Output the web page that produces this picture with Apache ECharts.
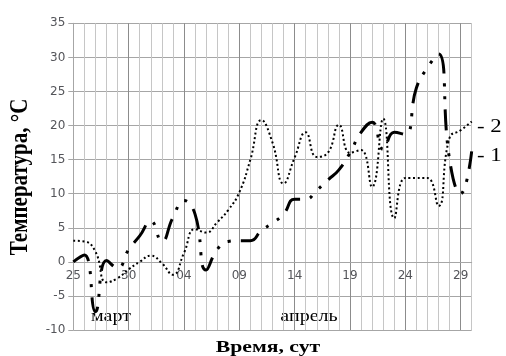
<!DOCTYPE html>
<html>
<head>
<meta charset="utf-8">
<script src="https://cdn.jsdelivr.net/npm/echarts@6/dist/echarts.min.js"></script>
<style>
html,body{margin:0;padding:0;background:#fff;}
#chart{width:506px;height:356px;}
</style>
</head>
<body>
<div id="chart"></div>
<script>
// Days: 25 March .. 30 April
const days = ['25','26','27','28','29','30','31',
  '01','02','03','04','05','06','07','08','09','10','11','12','13','14','15',
  '16','17','18','19','20','21','22','23','24','25','26','27','28','29','30'];
// Series 1 (long dash - dot - dot)
const series1 = [0, 1, -7.3, 0.2, -0.9, 1.8, 3.8, 6, 3, 6.5, 9, 7, -1.2, 1.8, 3, 3.1, 3.1, 4.6, 5.7, 7,
  9.2, 9.2, 10.5, 12, 13.5, 16, 19, 20.5, 16.5, 19, 18.7, 25.5, 28.5, 30.5, 15, 10, 16.2];
// Series 2 (round dots)
const series2 = [3.1, 3, 1.5, -3, -2.4, -1.1, 0, 0.9, -0.2, -1.9, 1.3, 4.8, 4.3, 5.8, 7.6, 10.2, 15, 20.8, 17.5, 11.5,
  15.3, 19, 15.4, 16, 20.1, 16, 16.4, 11, 21, 6.4, 12.3, 12.3, 12.3, 8.2, 18.2, 19.3, 20.6];
const yMin = -10, yMax = 35, yStep = 5;
const monthLabels = ['март', 'апрель'];
const seriesLabels = ['- 2', '- 1'];
const xTitle = 'Время, сут';
const yTitle = 'Температура, °С';

const gridTop = 23.3, gridBottom = 26, chartH = 356;
const plotH = chartH - gridTop - gridBottom;
const zeroOffset = -plotH * (0 - yMin) / (yMax - yMin);

const serif = '"Liberation Serif", "Times New Roman", serif';
const sans = '"DejaVu Sans", sans-serif';

const chart = echarts.init(document.getElementById('chart'));
chart.setOption({
  animation: false,
  grid: {left: 73.3, right: 34.3, top: gridTop, bottom: gridBottom},
  xAxis: {
    type: 'category', data: days, boundaryGap: false,
    position: 'bottom', offset: zeroOffset,
    axisLine: {show: true, onZero: false, lineStyle: {color: '#a6a6a6'}},
    axisTick: {show: false},
    axisLabel: {interval: 4, fontFamily: sans},
    splitLine: {show: true, interval: 0,
      lineStyle: {color: ['#8c8c8c', '#c6c6c6', '#c6c6c6', '#c6c6c6', '#c6c6c6']}}
  },
  yAxis: {
    type: 'value', min: yMin, max: yMax, interval: yStep,
    axisLine: {show: true, lineStyle: {color: '#a6a6a6'}},
    axisTick: {show: true, length: 5, lineStyle: {color: '#a6a6a6'}},
    axisLabel: {fontFamily: sans},
    splitLine: {show: true, lineStyle: {color: '#a6a6a6'}}
  },
  series: [
    {type: 'line', data: series1, smooth: true, symbol: 'none', z: 3,
      lineStyle: {color: '#000', width: 3, type: [21, 10, 3, 10, 3, 10]}},
    {type: 'line', data: series2, smooth: true, symbol: 'none', z: 2,
      lineStyle: {color: '#000', width: 2, type: [2, 2.6]}}
  ],
  graphic: [
    {type: 'text', x: 111, y: 317, scaleX: 1.25, style: {text: monthLabels[0], font: '16px ' + serif, fill: '#000', align: 'center', verticalAlign: 'middle'}},
    {type: 'text', x: 309, y: 317, scaleX: 1.25, style: {text: monthLabels[1], font: '16px ' + serif, fill: '#000', align: 'center', verticalAlign: 'middle'}},
    {type: 'text', x: 268, y: 347, scaleX: 1.24, style: {text: xTitle, font: 'bold 17.5px ' + serif, fill: '#000', align: 'center', verticalAlign: 'middle'}},
    {type: 'text', x: 21, y: 177, rotation: Math.PI / 2, scaleY: 1.15, style: {text: yTitle, font: 'bold 21px ' + serif, fill: '#000', align: 'center', verticalAlign: 'middle'}},
    {type: 'text', x: 477, y: 127, scaleX: 1.2, style: {text: seriesLabels[0], font: '19px ' + serif, fill: '#000', align: 'left', verticalAlign: 'middle'}},
    {type: 'text', x: 477, y: 156, scaleX: 1.2, style: {text: seriesLabels[1], font: '19px ' + serif, fill: '#000', align: 'left', verticalAlign: 'middle'}}
  ]
});
</script>
</body>
</html>
